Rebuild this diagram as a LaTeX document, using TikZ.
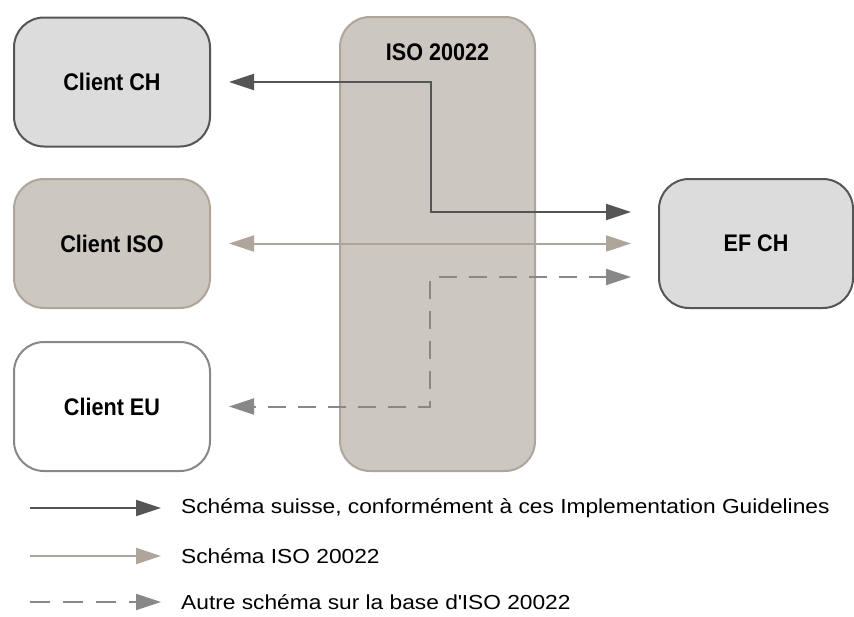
\documentclass[tikz,border=0pt]{standalone}
\usepackage{fontspec}
\setmainfont{Liberation Sans}
\newfontfamily\labfont[FakeStretch=0.9]{Liberation Sans Bold}
\newfontfamily\legfont[FakeStretch=1.12]{Liberation Sans}
\newcommand\straightq{{\XeTeXglyph\XeTeXcharglyph"0027\relax}}
\usetikzlibrary{arrows.meta}
\definecolor{darkln}{HTML}{555555}
\definecolor{chfill}{HTML}{DCDCDC}
\definecolor{isofill}{HTML}{CCC7C1}
\definecolor{isoln}{HTML}{AFA59B}
\definecolor{euln}{HTML}{888888}
\tikzset{
  ar/.tip={Triangle[length=25pt,width=16pt]},
  box/.style={rounded corners=30pt, line width=2pt, minimum width=196pt, minimum height=129pt, inner sep=0pt,
    font=\labfont\fontsize{24}{28}\selectfont},
  chbox/.style={box, draw=darkln, fill=chfill},
  isobox/.style={box, draw=isoln, fill=isofill},
  eubox/.style={box, draw=euln, fill=white},
  swissln/.style={line width=2pt, draw=darkln, ar-ar},
  isoarr/.style={line width=2pt, draw=isoln, ar-ar},
  othln/.style={line width=2pt, draw=euln, dash pattern=on 18pt off 12pt, ar-ar},
  legtxt/.style={anchor=west, inner sep=0pt, font=\legfont\fontsize{20.3}{24}\selectfont},
}
\begin{document}
\begin{tikzpicture}[x=1pt,y=-1pt]
\useasboundingbox (0,0) rectangle (854,616);
% ISO 20022 column
\node[isobox, minimum width=195pt, minimum height=454pt] (col) at (437.5,244) {};
\node[font=\labfont\fontsize{24}{28}\selectfont, inner sep=0pt] (colt) at (437.5,52) {ISO 20022};
% clients
\node[chbox] (cch) at (112,82) {Client CH};
\node[isobox] (ciso) at (112,243.5) {Client ISO};
\node[eubox] (ceu) at (112,406.5) {Client EU};
\node[chbox, minimum width=194pt] (efch) at (756,243.5) {EF CH};
% connector corners
\coordinate (e1) at (431,82);
\coordinate (e2) at (431,212);
\coordinate (e3) at (430,277);
\coordinate (e4) at (430,406.5);
% connectors
\draw[swissln, shorten <=18pt, shorten >=27pt] (cch.east) -- (e1) -- (e2) -- (e2 -| efch.west);
\draw[isoarr, shorten <=18pt, shorten >=27pt] (ciso.east) -- (efch.west);
\draw[othln, shorten <=27pt, shorten >=18pt] (e3 -| efch.west) -- (e3) -- (e4) -- (ceu.east);
% legend
\coordinate (l1a) at (30,508); \coordinate (l1b) at (161,508);
\coordinate (l2a) at (30,556); \coordinate (l2b) at (161,556);
\coordinate (l3a) at (30,602); \coordinate (l3b) at (161,602);
\draw[line width=2pt, draw=darkln, -ar] (l1a) -- (l1b);
\draw[line width=2pt, draw=isoln, -ar] (l2a) -- (l2b);
\draw[line width=2pt, draw=euln, dash pattern=on 20pt off 13pt, -ar] (l3a) -- (l3b);
\node[legtxt] (t1) at (181,508) {Schéma suisse, conformément à ces Implementation Guidelines};
\node[legtxt] (t2) at (181,556) {Schéma ISO 20022};
\node[legtxt] (t3) at (181,602) {Autre schéma sur la base d\straightq ISO 20022};
\end{tikzpicture}
\end{document}
